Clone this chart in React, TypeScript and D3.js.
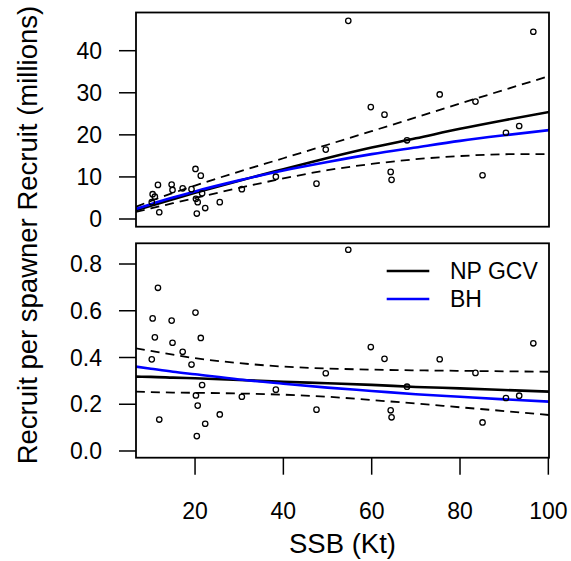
import React from "react";
import * as d3 from "d3";

// Observed stock-recruit data (SSB in Kt, Recruits in millions)
const ssb = [10.2, 10.4, 10.9, 11.6, 11.9, 14.7, 14.9, 17.2, 19.2, 20.1, 20.2, 20.4, 20.6, 21.3, 21.6, 22.3, 25.6, 30.6, 38.3, 47.5, 49.6, 54.7, 59.8, 62.9, 64.3, 64.5, 68.0, 75.4, 83.5, 85.1, 90.4, 93.4, 96.6];
const recruit = [4.0, 5.9, 5.3, 8.1, 1.6, 8.2, 6.9, 7.3, 7.1, 11.9, 4.8, 1.3, 4.0, 10.3, 6.1, 2.6, 4.0, 7.1, 10.05, 8.4, 16.5, 47.1, 26.6, 24.8, 11.2, 9.3, 18.7, 29.6, 27.9, 10.4, 20.5, 22.1, 44.5];

// Fitted curves, recruit-per-spawner read at grid SSB values
const gridSSB = [6.6, 10, 15, 20, 30, 40, 50, 60, 70, 80, 90, 100.2];
const npRps = [0.318, 0.317, 0.314, 0.311, 0.304, 0.296, 0.290, 0.283, 0.274, 0.268, 0.261, 0.254];
const bhRps = [0.361, 0.352, 0.339, 0.328, 0.306, 0.288, 0.271, 0.257, 0.243, 0.232, 0.221, 0.211];
const upperRps = [0.439, 0.428, 0.412, 0.397, 0.376, 0.361, 0.353, 0.348, 0.345, 0.343, 0.341, 0.339];
const lowerRps = [0.254, 0.252, 0.250, 0.249, 0.246, 0.241, 0.232, 0.218, 0.203, 0.187, 0.171, 0.154];

const xTicks = [20, 40, 60, 80, 100];
const topTicks = [0, 10, 20, 30, 40];
const botTicks = [0, 0.2, 0.4, 0.6, 0.8];
const botTickLabels = ["0.0", "0.2", "0.4", "0.6", "0.8"];
const legendLabels = ["NP GCV", "BH"];
const legendColors = ["#000000", "#0000ff"];

const FONT = "'Liberation Sans', Arial, Helvetica, sans-serif";
const FS = 23;
const FS_LAB = 27.5;

const L = 136, R = 549;
const T1 = 12.5, B1 = 226.7;
const T2 = 243.3, B2 = 457.7;
const TICK = 17;

export default function App() {
  const x = d3.scaleLinear().domain([6.63, 100.15]).range([L, R]);
  const y1 = d3.scaleLinear().domain([-1.83, 49.08]).range([B1, T1]);
  const y2 = d3.scaleLinear().domain([-0.0287, 0.8886]).range([B2, T2]);

  const mk = (ys: number[], mult: boolean, yS: d3.ScaleLinear<number, number>) =>
    d3
      .line<number>()
      .x((_, i) => x(gridSSB[i]))
      .y((v, i) => yS(mult ? v * gridSSB[i] : v))
      .curve(d3.curveMonotoneX)(ys) || "";

  const rps = ssb.map((s, i) => recruit[i] / s);

  const curves = (mult: boolean, yS: d3.ScaleLinear<number, number>) => (
    <>
      <path d={mk(upperRps, mult, yS)} fill="none" stroke="#000" strokeWidth={1.8} strokeDasharray="9,6" />
      <path d={mk(lowerRps, mult, yS)} fill="none" stroke="#000" strokeWidth={1.8} strokeDasharray="9,6" />
      <path d={mk(npRps, mult, yS)} fill="none" stroke="#000" strokeWidth={2.6} />
      <path d={mk(bhRps, mult, yS)} fill="none" stroke="#0000ff" strokeWidth={2.6} />
    </>
  );

  return (
    <svg width={571} height={561} style={{ position: "absolute", left: 0, top: 0, background: "#fff" }} fontFamily={FONT}>
      <defs>
        <clipPath id="c1"><rect x={L} y={T1} width={R - L} height={B1 - T1} /></clipPath>
        <clipPath id="c2"><rect x={L} y={T2} width={R - L} height={B2 - T2} /></clipPath>
      </defs>
      <rect width={571} height={561} fill="#fff" />

      {/* Top panel */}
      <g clipPath="url(#c1)">{curves(true, y1)}</g>
      {ssb.map((s, i) => (
        <circle key={"t" + i} cx={x(s)} cy={y1(recruit[i])} r={2.7} fill="none" stroke="#000" strokeWidth={1.3} />
      ))}
      <rect x={L} y={T1} width={R - L} height={B1 - T1} fill="none" stroke="#000" strokeWidth={1.8} />
      {topTicks.map((t) => (
        <g key={"yt" + t}>
          <line x1={L - TICK} x2={L} y1={y1(t)} y2={y1(t)} stroke="#000" strokeWidth={1.5} />
          <text x={L - TICK - 17} y={y1(t)} dy="0.35em" textAnchor="end" fontSize={FS}>{t}</text>
        </g>
      ))}

      {/* Bottom panel */}
      <g clipPath="url(#c2)">{curves(false, y2)}</g>
      {ssb.map((s, i) => (
        <circle key={"b" + i} cx={x(s)} cy={y2(rps[i])} r={2.7} fill="none" stroke="#000" strokeWidth={1.3} />
      ))}
      <rect x={L} y={T2} width={R - L} height={B2 - T2} fill="none" stroke="#000" strokeWidth={1.8} />
      {botTicks.map((t, i) => (
        <g key={"yb" + t}>
          <line x1={L - TICK} x2={L} y1={y2(t)} y2={y2(t)} stroke="#000" strokeWidth={1.5} />
          <text x={L - TICK - 17} y={y2(t)} dy="0.35em" textAnchor="end" fontSize={FS}>{botTickLabels[i]}</text>
        </g>
      ))}
      {xTicks.map((t) => (
        <g key={"xt" + t}>
          <line x1={x(t)} x2={x(t)} y1={B2} y2={B2 + TICK} stroke="#000" strokeWidth={1.5} />
          <text x={x(t)} y={511} dy="0.35em" textAnchor="middle" fontSize={FS}>{t}</text>
        </g>
      ))}

      {/* Legend */}
      {legendLabels.map((lab, i) => (
        <g key={lab}>
          <line x1={386.7} x2={429.3} y1={271 + i * 28} y2={271 + i * 28} stroke={legendColors[i]} strokeWidth={2.6} />
          <text x={450} y={271 + i * 28} dy="0.35em" fontSize={FS}>{lab}</text>
        </g>
      ))}

      {/* Axis titles */}
      <text x={(L + R) / 2} y={543} dy="0.35em" textAnchor="middle" fontSize={FS_LAB}>SSB (Kt)</text>
      <text transform={`translate(27,${(T1 + B2) / 2}) rotate(-90)`} dy="0.35em" textAnchor="middle" fontSize={FS_LAB}>
        Recruit per spawner Recruit (millions)
      </text>
    </svg>
  );
}
